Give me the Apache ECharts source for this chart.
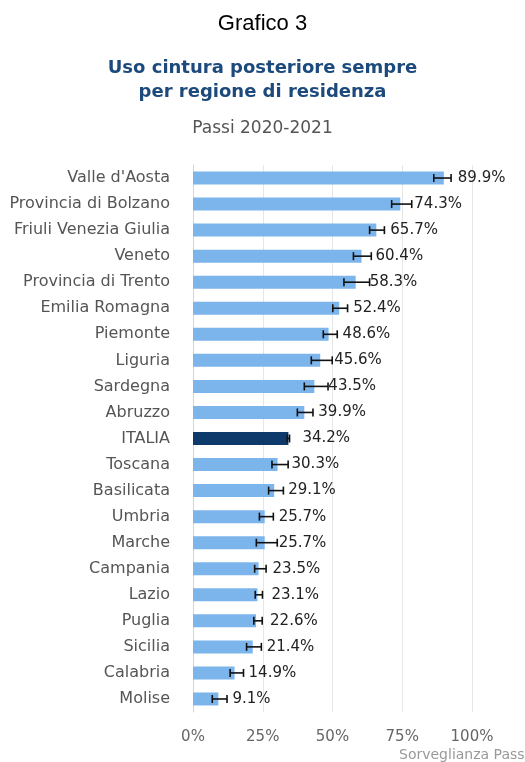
<!DOCTYPE html>
<html>
<head>
<meta charset="utf-8">
<script src="https://cdn.jsdelivr.net/npm/echarts@6/dist/echarts.min.js"></script>
<style>
html,body{margin:0;padding:0;background:#fff;}
#chart{width:525px;height:762px;}
</style>
</head>
<body>
<div id="chart"></div>
<script>
const categories = ["Valle d'Aosta","Provincia di Bolzano","Friuli Venezia Giulia","Veneto","Provincia di Trento","Emilia Romagna","Piemonte","Liguria","Sardegna","Abruzzo","ITALIA","Toscana","Basilicata","Umbria","Marche","Campania","Lazio","Puglia","Sicilia","Calabria","Molise"];
const values = [89.9,74.3,65.7,60.4,58.3,52.4,48.6,45.6,43.5,39.9,34.2,30.3,29.1,25.7,25.7,23.5,23.1,22.6,21.4,14.9,9.1];
const ciLow = [86.3,71.2,63.3,57.5,54.1,50.1,46.7,42.4,39.9,37.4,33.8,28.3,27.1,23.8,22.7,22.1,22.3,21.8,19.2,13.3,6.9];
const ciHigh = [92.5,78.4,68.6,63.9,63.3,55.4,51.7,49.9,48.4,43.0,34.6,34.1,32.4,28.8,30.2,26.2,24.9,24.8,24.5,18.1,12.2];
const xTicks = [0,25,50,75,100];
const highlight = "ITALIA";

const chart = echarts.init(document.getElementById('chart'));
const font = 'DejaVu Sans';

const barData = values.map((v,i)=>({
  value: v,
  itemStyle: {color: categories[i]===highlight ? '#0e3a6b' : '#7cb5ec'}
}));
const errData = categories.map((c,i)=>[i, ciLow[i], ciHigh[i]]);

chart.setOption({
  animation:false,
  backgroundColor:'#fff',
  title:[
    {text:'Grafico 3', left:'center', top:8, textStyle:{fontFamily:'Liberation Sans', fontSize:22, fontWeight:'normal', color:'#000'}},
    {text:'Uso cintura posteriore sempre\nper regione di residenza', left:'center', top:51, textStyle:{fontFamily:font, fontSize:18, fontWeight:'bold', color:'#1d4a7c', lineHeight:24}},
    {text:'Passi 2020-2021', left:'center', top:115, textStyle:{fontFamily:font, fontSize:17, fontWeight:'normal', color:'#555'}}
  ],
  graphic:[
    {type:'text', left:399, top:748, style:{text:'Sorveglianza Passi', font:'14px "DejaVu Sans"', fill:'#999'}}
  ],
  grid:{left:193, right:53, top:165, bottom:50, containLabel:false},
  xAxis:{
    type:'value', min:0, max:100, interval:25,
    axisLine:{show:false}, axisTick:{show:false},
    splitLine:{lineStyle:{color:'#e6e6e6', width:1}},
    axisLabel:{formatter:v=>xTicks.includes(v)?v+'%':'', fontFamily:font, fontSize:15, color:'#666', margin:18}
  },
  yAxis:{
    type:'category', data:categories, inverse:true,
    axisLine:{show:true, lineStyle:{color:'#ccd6eb'}},
    axisTick:{show:false},
    axisLabel:{fontFamily:font, fontSize:16, color:'#555', margin:23}
  },
  series:[
    {
      type:'bar', data:barData, barWidth:13,
      label:{show:true, position:'right', distance:14, formatter:p=>p.value.toFixed(1)+'%', fontFamily:font, fontSize:15, color:'#222'},
      z:2
    },
    {
      type:'custom', data:errData, z:5,
      encode:{x:[1,2], y:0},
      renderItem:function(params, api){
        const idx = api.value(0);
        const p1 = api.coord([api.value(1), idx]);
        const p2 = api.coord([api.value(2), idx]);
        const h = 4;
        const st = {stroke:'#111', lineWidth:1.6};
        return {type:'group', children:[
          {type:'line', shape:{x1:p1[0], y1:p1[1], x2:p2[0], y2:p2[1]}, style:st},
          {type:'line', shape:{x1:p1[0], y1:p1[1]-h, x2:p1[0], y2:p1[1]+h}, style:st},
          {type:'line', shape:{x1:p2[0], y1:p2[1]-h, x2:p2[0], y2:p2[1]+h}, style:st}
        ]};
      }
    }
  ]
});
</script>
</body>
</html>
